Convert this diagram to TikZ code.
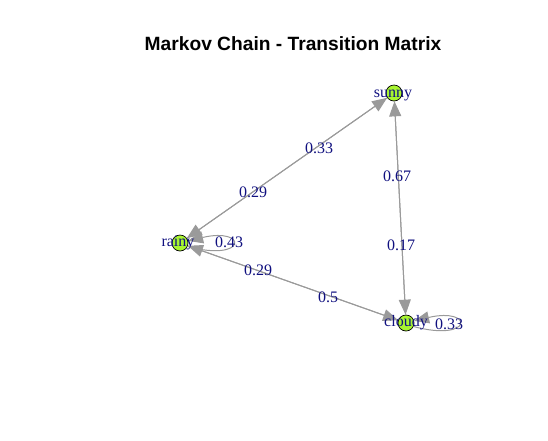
\documentclass[tikz,border=0pt]{standalone}
\usepackage{fontspec}
\setmainfont{Liberation Serif}
\newfontfamily\titlefont{Liberation Sans}
\usetikzlibrary{arrows.meta}
\definecolor{vfill}{HTML}{A8F530}
\definecolor{edgegray}{HTML}{9A9A9A}
\definecolor{lblblue}{HTML}{10107F}
\tikzset{
  vertex/.style={circle,draw=black,line width=0.7pt,fill=vfill,minimum size=16pt,inner sep=0pt},
  vname/.style={text=lblblue,font=\fontsize{16}{16}\selectfont,inner sep=0pt},
  elabel/.style={text=lblblue,font=\fontsize{16}{16}\selectfont,inner sep=0pt},
  edge/.style={draw=edgegray,line width=1pt,-{Triangle[length=15pt,width=12pt]}},
}
\begin{document}
\begin{tikzpicture}[x=1pt,y=-1pt]
\useasboundingbox (0,0) rectangle (548,440);
\node[font=\titlefont\bfseries\fontsize{19.2}{19.2}\selectfont,anchor=base] (title) at (293,50) {Markov Chain - Transition Matrix};
\node[vertex] (sunny) at (394,93) {};
\node[vertex] (rainy) at (180,243) {};
\node[vertex] (cloudy) at (406,323) {};
% edges
\draw[edge] (rainy) -- (sunny);
\draw[edge] (sunny) -- (rainy);
\draw[edge] (sunny) -- (cloudy);
\draw[edge] (cloudy) -- (sunny);
\draw[edge] (rainy) -- (cloudy);
\draw[edge] (cloudy) -- (rainy);
\draw[edge] (rainy.-25) .. controls +(60,16) and +(60,-14) .. (rainy.15);
\draw[edge] (cloudy.-25) .. controls +(60,16) and +(60,-14) .. (cloudy.15);
% vertex names
\node[vname] (nsunny) at (393,95) {sunny};
\node[vname] (nrainy) at (178,243) {rainy};
\node[vname] (ncloudy) at (406,323) {cloudy};
% edge labels
\node[elabel] (l1) at (319,148) {0.33};
\node[elabel] (l2) at (253,192) {0.29};
\node[elabel] (l3) at (397,176) {0.67};
\node[elabel] (l4) at (401,245) {0.17};
\node[elabel] (l5) at (258,270) {0.29};
\node[elabel] (l6) at (328,297) {0.5};
\node[elabel] (l7) at (229,242) {0.43};
\node[elabel] (l8) at (449,324) {0.33};
\end{tikzpicture}
\end{document}
